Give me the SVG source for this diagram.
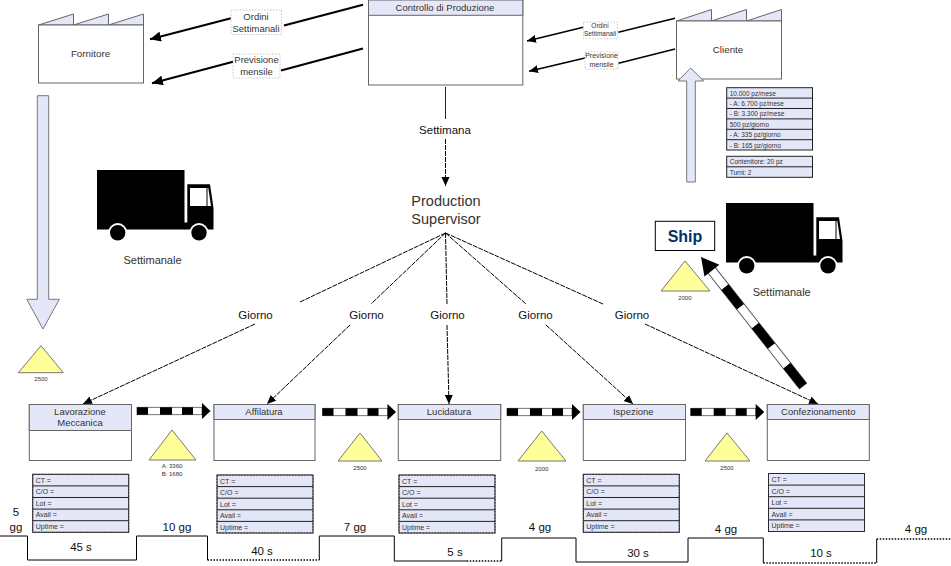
<svg xmlns="http://www.w3.org/2000/svg" xmlns:xlink="http://www.w3.org/1999/xlink" width="951" height="566" viewBox="0 0 951 566">
<style>
text{font-family:"Liberation Sans",Arial,sans-serif;fill:#333;text-anchor:middle}
.box{fill:#fff;stroke:#666;stroke-width:1}
.hd{fill:#e4e7f8;stroke:#666;stroke-width:1}
.row{fill:#e4e7f8;stroke:#222;stroke-width:1}
.rowd{fill:none;stroke:#333;stroke-width:1;stroke-dasharray:1.5 1.5}
.fat{fill:#e4e7f8;stroke:#777;stroke-width:1}
.tri{fill:#ffff99;stroke:#777;stroke-width:1}
.lbl{fill:#fff;stroke:#bbb;stroke-width:.8;stroke-dasharray:1.5 1.5}
.t12{font-size:11.5px;fill:#111}.t11{font-size:11px}.t95{font-size:9.5px}.t7{font-size:7px;text-anchor:start}.t65{font-size:6.5px;text-anchor:start}.t6{font-size:6px}
.thick{fill:none;stroke:#000;stroke-width:2.2}
.mid{fill:none;stroke:#000;stroke-width:1.5}
.thin{fill:none;stroke:#222;stroke-width:1}
.dash{fill:none;stroke:#000;stroke-width:1;stroke-dasharray:5 1}
.tl{fill:none;stroke:#000;stroke-width:1}
.tld{fill:none;stroke:#000;stroke-width:1.4;stroke-dasharray:1.5 1.5}
</style>
<defs>
<marker id="ah" markerUnits="userSpaceOnUse" markerWidth="12" markerHeight="10" refX="11" refY="5" orient="auto"><path d="M0 0L11 5L0 10Z" fill="#000"/></marker>
<marker id="as" markerUnits="userSpaceOnUse" markerWidth="10" markerHeight="9" refX="9" refY="4" orient="auto"><path d="M0 0L9 4L0 8Z" fill="#000"/></marker>
<g id="stripe">
<rect x="0" y="-3.7" width="65" height="7.4" fill="#fff" stroke="#555" stroke-width=".8"/>
<path d="M0 0H11M23 0H35M45 0H56" stroke="#000" stroke-width="7.4" fill="none"/>
<path d="M65 -8L73.5 0L65 8Z" fill="#000"/>
</g>
<g id="truck">
<rect x="97" y="170" width="87.5" height="59.5" fill="#000"/>
<path d="M187.3 184.3H210L213.5 208V229.5H184V222.5H187.3Z" fill="#000"/>
<rect x="190" y="188" width="16.5" height="18" fill="#fff"/>
<path d="M207.5 188H208.3L211 206H207.5Z" fill="#fff"/>
<circle cx="117.7" cy="232.7" r="9.6" fill="#fff"/><circle cx="117.7" cy="232.7" r="7.7" fill="#000"/>
<circle cx="199" cy="232.7" r="9.6" fill="#fff"/><circle cx="199" cy="232.7" r="7.7" fill="#000"/>
</g>
<g id="rows">
<rect x="0" y="0" width="96" height="58" class="row"/>
<path d="M0 11.6H96M0 23.2H96M0 34.8H96M0 46.4H96" class="thin"/>
<rect x="0" y="0" width="96" height="58" class="rowd"/>
<text x="3" y="8.5" class="t7">CT =</text><text x="3" y="20" class="t7">C/O =</text><text x="3" y="31.5" class="t7">Lot =</text><text x="3" y="43" class="t7">Avail =</text><text x="3" y="54.5" class="t7">Uptime =</text>
</g>
</defs>
<rect width="951" height="566" fill="#fff"/>

<g id="fornitore">
<path d="M38.5 25L73.5 14V25L108.5 14V25L143.5 14V25Z" class="hd"/>
<rect x="38.5" y="25" width="105" height="58" class="box"/>
<text x="90.5" y="57" font-size="9.8">Fornitore</text>
</g>
<g id="controllo">
<rect x="368.5" y="0" width="154.3" height="85" class="box"/>
<rect x="368.5" y="0" width="154.3" height="15.3" class="hd"/>
<text x="445" y="11" class="t95">Controllo di Produzione</text>
</g>
<g id="cliente">
<path d="M676.5 21L711.5 9.5V21L746.5 9.5V21L781.5 9.5V21Z" class="hd"/>
<rect x="676.5" y="21" width="105" height="58" class="box"/>
<text x="728" y="53" font-size="9.8">Cliente</text>
</g>

<g id="connectors">
<path d="M363 4.7L284 25.5" class="thick"/><path d="M231 18.3L150 39.3" class="thick" marker-end="url(#ah)"/>
<path d="M363 48.5L281 70.5" class="thick"/><path d="M233 61.7L152 83.3" class="thick" marker-end="url(#ah)"/>
<path d="M675 18.3L618.3 32.3" class="mid"/><path d="M583.3 27.3L527 41" class="mid" marker-end="url(#as)"/>
<path d="M675 49L618.5 63.3" class="mid"/><path d="M585 58L529 71.3" class="mid" marker-end="url(#as)"/>
<path d="M445.5 87V119" class="thin"/><path d="M445.5 139V186" class="dash" marker-end="url(#as)"/>
<path d="M445.5 233L300 302" class="dash"/><path d="M255 324L83 404" class="dash" marker-end="url(#as)"/>
<path d="M445.5 233L371 304" class="dash"/><path d="M350 325L267 404" class="dash" marker-end="url(#as)"/>
<path d="M445.5 233L447 304" class="dash"/><path d="M447 325L449 404" class="dash" marker-end="url(#as)"/>
<path d="M445.5 233L526 304" class="dash"/><path d="M546 325L633 404" class="dash" marker-end="url(#as)"/>
<path d="M445.5 233L603 304" class="dash"/><path d="M645 324L818 404" class="dash" marker-end="url(#as)"/>
<use xlink:href="#stripe" href="#stripe" transform="translate(137 411)"/>
<use xlink:href="#stripe" href="#stripe" transform="translate(322.5 412)"/>
<use xlink:href="#stripe" href="#stripe" transform="translate(507 412)"/>
<use xlink:href="#stripe" href="#stripe" transform="translate(690.7 412)"/>
<g transform="translate(803 386) rotate(231.7)">
<rect x="0" y="-4.6" width="148" height="9.2" fill="#fff" stroke="#555" stroke-width="1"/>
<path d="M0 0H26M51 0H77M101 0H126" stroke="#000" stroke-width="9.2" fill="none"/>
<path d="M147 -9.5L164.5 0L147 9.5Z" fill="#000"/>
</g>
<path d="M37.3 95.7H48.7V299.3H59.3L43 329L26.7 299.3H37.3Z" class="fat"/>
<path d="M686.7 182V81H678L690.7 68L703.7 81H695.3V182Z" class="fat"/>
</g>

<g id="label-ordini-l"><rect x="231" y="10" width="50.5" height="24.5" class="lbl"/><text x="256" y="19.5" class="t95">Ordini</text><text x="256" y="32" class="t95">Settimanali</text></g>
<g id="label-previsione-l"><rect x="233" y="54" width="47" height="24" class="lbl"/><text x="256.5" y="63" class="t95">Previsione</text><text x="256.5" y="75" class="t95">mensile</text></g>
<g id="label-ordini-r"><rect x="583.5" y="22" width="34" height="16.7" class="lbl"/><text x="600" y="28" font-size="6.5">Ordini</text><text x="600" y="36" font-size="6.5">Settimanali</text></g>
<g id="label-previsione-r"><rect x="585" y="52" width="33" height="17" class="lbl"/><text x="601.5" y="58" font-size="7">Previsione</text><text x="601.5" y="66.5" font-size="7">mensile</text></g>
<g id="label-settimana"><text x="445" y="134" class="t12">Settimana</text></g>
<g id="label-giorno-1"><text x="255.5" y="319" class="t12">Giorno</text></g>
<g id="label-giorno-2"><text x="366.5" y="319" class="t12">Giorno</text></g>
<g id="label-giorno-3"><text x="447.5" y="319" class="t12">Giorno</text></g>
<g id="label-giorno-4"><text x="535.5" y="319" class="t12">Giorno</text></g>
<g id="label-giorno-5"><text x="632" y="319" class="t12">Giorno</text></g>

<g id="customer-data">
<rect x="726.7" y="87.7" width="85.8" height="62.3" class="row" stroke="#444"/>
<path d="M726.7 98.1H812.5M726.7 108.5H812.5M726.7 118.9H812.5M726.7 129.3H812.5M726.7 139.7H812.5" class="thin"/>
<text x="729.7" y="95.5" class="t65">10.000 pz/mese</text>
<text x="729.7" y="105.9" class="t65">- A: 6.700 pz/mese</text>
<text x="729.7" y="116.3" class="t65">- B: 3.300 pz/mese</text>
<text x="729.7" y="126.7" class="t65">500 pz/giorno</text>
<text x="729.7" y="137.1" class="t65">- A: 335 pz/giorno</text>
<text x="729.7" y="147.5" class="t65">- B: 165 pz/giorno</text>
<rect x="726.7" y="156.3" width="85.8" height="21" class="row"/>
<path d="M726.7 166.8H812.5" class="thin"/>
<text x="729.7" y="164.3" class="t65">Contenitore: 20 pz</text>
<text x="729.7" y="174.8" class="t65">Turni: 2</text>
</g>
<g id="supervisor"><text x="446" y="206" font-size="14.5">Production</text><text x="446" y="224" font-size="14.5">Supervisor</text></g>
<g id="truck-1"><use xlink:href="#truck" href="#truck"/><text x="152.5" y="264" class="t11">Settimanale</text></g>
<g id="truck-2"><use xlink:href="#truck" href="#truck" transform="translate(629 33)"/><text x="781.7" y="296" class="t11">Settimanale</text></g>
<g id="ship"><rect x="655.3" y="221.3" width="59.4" height="29.2" fill="#fff" stroke="#000"/><text x="685" y="241.5" font-size="16" font-weight="bold" style="fill:#003366">Ship</text></g>

<g id="inv-0"><path d="M41 345.7L63.3 372.7H18.3Z" class="tri"/><text x="41" y="381" class="t6">2500</text></g>
<g id="inv-1"><path d="M172 430L196 460H149Z" class="tri"/><text x="172" y="468" class="t6">A: 3360</text><text x="172" y="476" class="t6">B: 1680</text></g>
<g id="inv-2"><path d="M360 433L382 461H338Z" class="tri"/><text x="360" y="469.5" class="t6">2500</text></g>
<g id="inv-3"><path d="M541.7 431L566 461H518Z" class="tri"/><text x="541.7" y="470.5" class="t6">2000</text></g>
<g id="inv-4"><path d="M727 433L750 461H705Z" class="tri"/><text x="727" y="469.5" class="t6">2500</text></g>
<g id="inv-5"><path d="M685 261L710 291H661Z" class="tri"/><text x="685" y="300" class="t6">2000</text></g>

<g id="p1"><rect x="29.3" y="404.5" width="102.2" height="56" class="box"/><rect x="29.3" y="404.5" width="102.2" height="26" class="hd"/><text x="80" y="414.5" class="t95">Lavorazione</text><text x="80" y="426" class="t95">Meccanica</text></g>
<g id="p2"><rect x="214" y="404.5" width="101" height="56" class="box"/><rect x="214" y="404.5" width="101" height="15" class="hd"/><text x="264" y="415" class="t95">Affilatura</text></g>
<g id="p3"><rect x="398.3" y="404.5" width="102.4" height="56" class="box"/><rect x="398.3" y="404.5" width="102.4" height="15" class="hd"/><text x="449" y="415" class="t95">Lucidatura</text></g>
<g id="p4"><rect x="583.3" y="404.5" width="102.2" height="56" class="box"/><rect x="583.3" y="404.5" width="102.2" height="15" class="hd"/><text x="633.3" y="415" class="t95">Ispezione</text></g>
<g id="p5"><rect x="767.3" y="404.5" width="102" height="56" class="box"/><rect x="767.3" y="404.5" width="102" height="15" class="hd"/><text x="818.3" y="415" class="t95">Confezionamento</text></g>

<g id="d1"><use xlink:href="#rows" href="#rows" transform="translate(32.7 474.3)"/></g>
<g id="d2"><use xlink:href="#rows" href="#rows" transform="translate(217 475)"/></g>
<g id="d3"><use xlink:href="#rows" href="#rows" transform="translate(399 475)"/></g>
<g id="d4"><use xlink:href="#rows" href="#rows" transform="translate(583.3 474.3)"/></g>
<g id="d5"><use xlink:href="#rows" href="#rows" transform="translate(768.5 473.5)"/></g>

<g id="timeline">
<path d="M0 536H27.5V560H136.5V536H207.5V560" class="tl"/>
<path d="M207.5 560H319.3" class="tld"/>
<path d="M319.3 560V536H394.3V561H466.7" class="tl"/>
<path d="M466.7 561H501.7" class="tld"/>
<path d="M501.7 561V538H576V562H688V538H763.3V563" class="tl"/>
<path d="M763.3 563H876.7" class="tld"/>
<path d="M876.7 563V539" class="tl"/>
<path d="M876.7 539H951" class="tld"/>
<text x="16" y="516" class="t12">5</text><text x="16" y="530.6" class="t12">gg</text>
<text x="81" y="551" class="t12">45 s</text>
<text x="177" y="530.6" class="t12">10 gg</text>
<text x="262" y="555" class="t12">40 s</text>
<text x="355" y="531" class="t12">7 gg</text>
<text x="455" y="556" class="t12">5 s</text>
<text x="540" y="531" class="t12">4 gg</text>
<text x="638" y="557" class="t12">30 s</text>
<text x="726" y="533" class="t12">4 gg</text>
<text x="821" y="557" class="t12">10 s</text>
<text x="916" y="533" class="t12">4 gg</text>
</g>
</svg>
